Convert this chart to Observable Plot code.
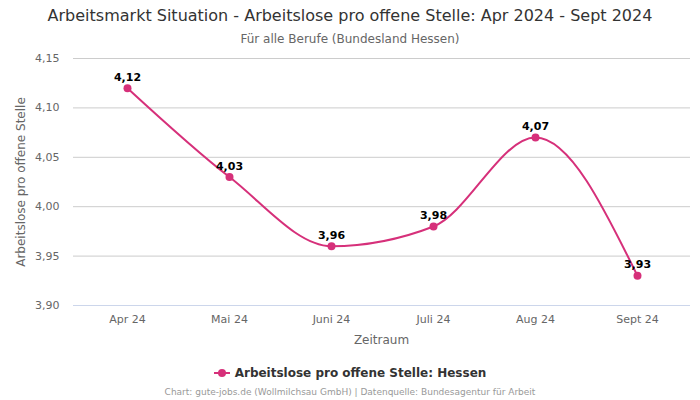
<!DOCTYPE html>
<html>
<head>
<meta charset="utf-8">
<script src="https://cdn.jsdelivr.net/npm/d3@7"></script>
<script src="https://cdn.jsdelivr.net/npm/@observablehq/plot@0.6"></script>
<style>
  html, body { margin: 0; padding: 0; background: #fff; }
  body { width: 700px; height: 400px; position: relative; overflow: hidden; font-family: "DejaVu Sans", sans-serif; }
  .abs { position: absolute; left: 0; width: 700px; text-align: center; white-space: nowrap; }
  #title { top: 6px; font-size: 16px; color: #333; }
  #subtitle { top: 32px; font-size: 12px; color: #666; }
  #chart { top: 50px; }
  #xlabel { top: 333px; left: 73px; width: 617px; font-size: 12px; color: #666; }
  #ylabel { position: absolute; left: 21px; top: 182px; width: 0; height: 0; }
  #ylabel span { position: absolute; transform: translate(-50%, -50%) rotate(-90deg); white-space: nowrap; font-size: 12px; color: #666; }
  #legend { top: 366px; font-size: 12px; font-weight: bold; color: #333; }
  #legend svg { vertical-align: -1px; margin-right: 5px; }
  #caption { top: 387px; font-size: 9px; color: #999; }
</style>
</head>
<body>
<div id="title" class="abs">Arbeitsmarkt Situation - Arbeitslose pro offene Stelle: Apr 2024 - Sept 2024</div>
<div id="subtitle" class="abs">Für alle Berufe (Bundesland Hessen)</div>
<div id="chart" class="abs" style="text-align:left"></div>
<div id="xlabel" class="abs">Zeitraum</div>
<div id="ylabel"><span>Arbeitslose pro offene Stelle</span></div>
<div id="legend" class="abs"><svg width="16" height="10"><line x1="0" y1="5" x2="16" y2="5" stroke="#d6307a" stroke-width="2"/><circle cx="8" cy="5" r="4" fill="#d6307a"/></svg>Arbeitslose pro offene Stelle: Hessen</div>
<div id="caption" class="abs">Chart: gute-jobs.de (Wollmilchsau GmbH) | Datenquelle: Bundesagentur für Arbeit</div>
<script>
const months = ["Apr 24", "Mai 24", "Juni 24", "Juli 24", "Aug 24", "Sept 24"];
const values = [4.12, 4.03, 3.96, 3.98, 4.07, 3.93];
const yTicks = [3.90, 3.95, 4.00, 4.05, 4.10, 4.15];

const color = "#d6307a";
const de = d3.formatLocale({decimal: ",", thousands: ".", grouping: [3], currency: ["", " €"]});
const fmt = de.format(".2f");
const data = months.map((m, i) => ({month: m, value: values[i]}));

const plot = Plot.plot({
  width: 700,
  height: 300,
  marginTop: 8,
  marginBottom: 45,
  marginLeft: 73,
  marginRight: 10,
  style: {fontFamily: "DejaVu Sans, sans-serif", fontSize: "11px", color: "#666", background: "transparent"},
  x: {type: "point", domain: months, padding: 0.5, label: null},
  y: {domain: [3.90, 4.15], label: null},
  marks: [
    Plot.gridY(yTicks.slice(1), {stroke: "#cccccc", strokeOpacity: 1, strokeWidth: 1}),
    Plot.ruleY([3.90], {stroke: "#ccd6eb", strokeWidth: 1}),
    Plot.axisY(yTicks, {tickSize: 0, tickPadding: 14, tickFormat: fmt, fill: "#666", fontSize: 11, label: null}),
    Plot.axisX(months, {tickSize: 0, tickPadding: 10, fill: "#666", fontSize: 11, label: null}),
    Plot.line(data, {x: "month", y: "value", stroke: color, strokeWidth: 2, curve: "monotone-x"}),
    Plot.dot(data, {x: "month", y: "value", fill: color, r: 4}),
    Plot.text(data, {x: "month", y: "value", text: d => fmt(d.value), dy: -11, fill: "#000", fontWeight: "bold", fontSize: 11})
  ]
});
document.getElementById("chart").appendChild(plot);
</script>
</body>
</html>
